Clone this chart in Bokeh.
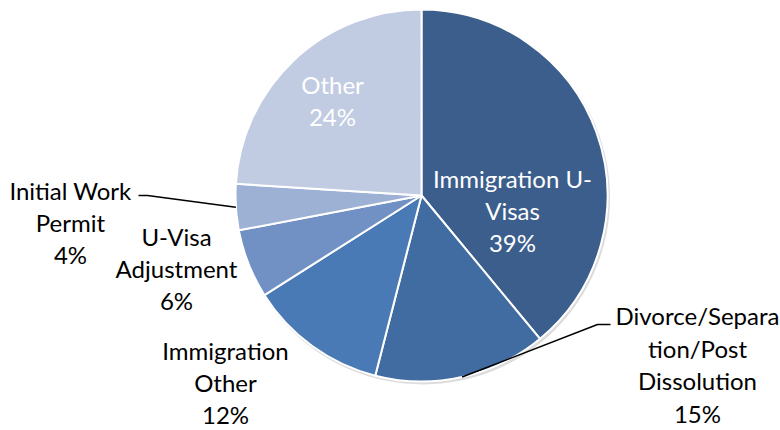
import numpy as np
from bokeh.plotting import figure
from bokeh.models import Range1d, ColumnDataSource
from bokeh.embed import file_html
from bokeh.resources import INLINE
from bokeh.core.properties import value

categories = ["Immigration U-Visas", "Divorce/Separation/Post Dissolution",
              "Immigration Other", "U-Visa Adjustment", "Initial Work Permit", "Other"]
label_lines = [["Immigration U-", "Visas"], ["Divorce/Separa", "tion/Post", "Dissolution"],
               ["Immigration", "Other"], ["U-Visa", "Adjustment"], ["Initial Work", "Permit"], ["Other"]]
percent = [39, 15, 12, 6, 4, 24]
colors = ["#3B5E8C", "#416CA1", "#4A7AB5", "#7191C5", "#9DB1D5", "#C1CCE2"]

# layout (screen pixel coordinates of label block centres)
label_x = [512, 697, 225, 176, 70, 332]
label_y = [210, 364, 382, 268, 222, 100]
label_color = ["white", "black", "black", "black", "black", "white"]

CX, CY, R = 421, 195, 186

p = figure(width=780, height=430, x_range=Range1d(0, 780), y_range=Range1d(-430, 0),
           output_backend="svg", toolbar_location=None, min_border=0,
           x_axis_type=None, y_axis_type=None)
p.grid.visible = False
p.outline_line_color = None
p.background_fill_color = "white"

vals = np.array(percent, dtype=float)
frac = vals / vals.sum()
cum = np.concatenate([[0], np.cumsum(frac)])
start = np.pi / 2 - cum[:-1] * 2 * np.pi
end = np.pi / 2 - cum[1:] * 2 * np.pi

# soft shadow
p.circle(x=[CX + 1.5], y=[-CY - 2], radius=R + 1, fill_color="#9a9a9a", fill_alpha=0.35, line_color=None)

src = ColumnDataSource(dict(x=[CX] * len(vals), y=[-CY] * len(vals), start=start, end=end,
                            color=colors, cat=categories))
p.wedge(x="x", y="y", radius=R, start_angle="start", end_angle="end", direction="clock",
        fill_color="color", line_color="white", line_width=2, source=src)

# leader lines for the two labels that sit away from their slices
mid = (start + end) / 2
def edge(i):
    return CX + R * np.cos(mid[i]), -CY + R * np.sin(mid[i])

ex, ey = edge(4)
p.line([138, 147, ex], [-195, -195, ey], line_color="black", line_width=1.5)
ex, ey = edge(1)
p.line([610, 597, ex], [-324, -324, ey], line_color="black", line_width=1.5)

texts = ["\n".join(l + [f"{v}%"]) for l, v in zip(label_lines, percent)]
tsrc = ColumnDataSource(dict(x=label_x, y=[-v for v in label_y], t=texts, c=label_color))
p.text(x="x", y="y", text="t", text_color="c", source=tsrc, text_align="center",
       text_baseline="middle", text_font=value("Lato"), text_font_size="24px",
       text_line_height=1.12)

open("out.html", "w").write(file_html(p, INLINE))
